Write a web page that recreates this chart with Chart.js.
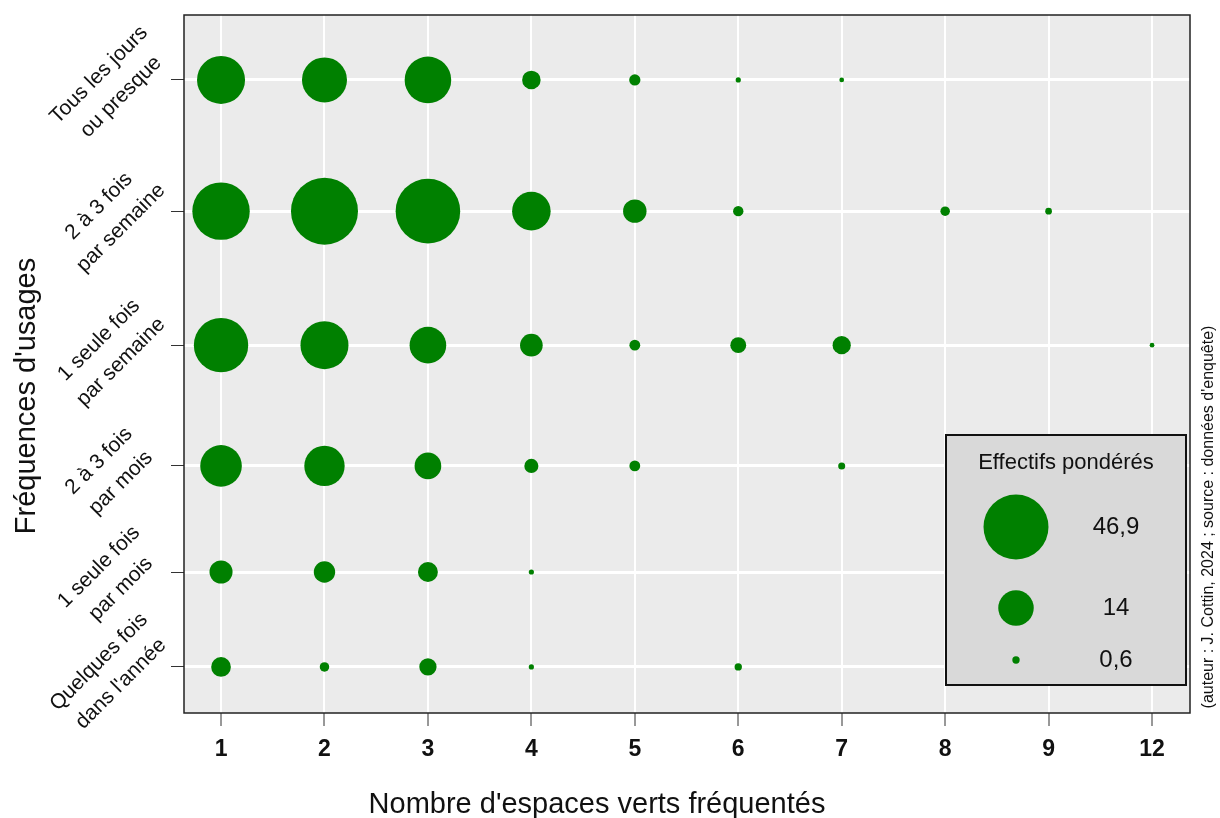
<!DOCTYPE html>
<html>
<head>
<meta charset="utf-8">
<script src="https://cdn.jsdelivr.net/npm/chart.js@4/dist/chart.umd.min.js"></script>
<style>
  body { margin: 0; background: #fff; }
  canvas { display: block; }
</style>
</head>
<body>
<canvas id="bulles" width="1220" height="818"></canvas>
<script>
// nombre d'espaces verts fréquentés (colonnes)
const xLabels = ['1', '2', '3', '4', '5', '6', '7', '8', '9', '12'];
// fréquences d'usages, de bas en haut
const rowLabels = [
  ['Quelques fois', "dans l'année"],
  ['1 seule fois', 'par mois'],
  ['2 à 3 fois', 'par mois'],
  ['1 seule fois', 'par semaine'],
  ['2 à 3 fois', 'par semaine'],
  ['Tous les jours', 'ou presque']
];
const rowLevels = [6.6, 20.2, 35.4, 52.7, 71.9, 90.7];

// effectifs pondérés, une liste par fréquence (null = pas de bulle)
const quelquesFois     = [4.3, 1.0, 3.3, 0.3, null, 0.6, null, null, null, null];
const uneFoisMois      = [5.9, 5.1, 4.4, 0.3, null, null, null, null, null, null];
const deuxTroisMois    = [19.2, 18.1, 7.9, 2.2, 1.3, null, 0.55, null, null, null];
const uneFoisSemaine   = [32.8, 25.6, 14.9, 5.7, 1.3, 2.8, 3.7, null, null, 0.25];
const deuxTroisSemaine = [36.6, 49.8, 46.3, 16.5, 6.1, 1.2, null, 1.0, 0.5, null];
const tousLesJours     = [25.6, 22.5, 24.1, 3.8, 1.4, 0.3, 0.25, null, null, null];
const rows = [quelquesFois, uneFoisMois, deuxTroisMois, uneFoisSemaine, deuxTroisSemaine, tousLesJours];

const legendValues = [46.9, 14, 0.6];
const legendLabels = ['46,9', '14', '0,6'];

const VERT = '#008000';
const FONT = '"Liberation Sans", Arial, Helvetica, sans-serif';

// surface proportionnelle à l'effectif
const rayon = v => 32.5 * Math.sqrt(v / 46.9);

const datasets = rows.map((vals, i) => ({
  label: rowLabels[i].join(' '),
  data: vals.map((v, j) => v == null ? null : { x: j, y: rowLevels[i], r: rayon(v) }).filter(p => p),
  backgroundColor: VERT,
  borderWidth: 0,
  hoverBorderWidth: 0
}));

const decor = {
  id: 'decor',
  beforeDraw(chart) {
    const { ctx, chartArea: a } = chart;
    ctx.save();
    ctx.fillStyle = '#ffffff';
    ctx.fillRect(0, 0, chart.width, chart.height);
    ctx.fillStyle = '#ebebeb';
    ctx.fillRect(a.left, a.top, a.right - a.left, a.bottom - a.top);
    ctx.restore();
  },
  afterDraw(chart) {
    const { ctx, chartArea: a } = chart;
    const ys = chart.scales.y;
    ctx.save();
    // cadre
    ctx.strokeStyle = '#222';
    ctx.lineWidth = 1.5;
    ctx.strokeRect(a.left, a.top, a.right - a.left, a.bottom - a.top);

    // étiquettes de l'axe y, inclinées à 45°
    ctx.fillStyle = '#111';
    ctx.font = '21px ' + FONT;
    ctx.textAlign = 'center';
    ctx.textBaseline = 'middle';
    rowLevels.forEach((lv, i) => {
      const py = ys.getPixelForValue(lv);
      ctx.save();
      ctx.translate(110, py + 6);
      ctx.rotate(-Math.PI / 4);
      const lines = rowLabels[i];
      lines.forEach((t, k) => {
        ctx.fillText(t, 0, (k - (lines.length - 1) / 2) * 31);
      });
      ctx.restore();
    });

    // titres des axes
    ctx.font = '29px ' + FONT;
    ctx.textBaseline = 'alphabetic';
    ctx.fillText("Nombre d'espaces verts fréquentés", 597, 813);
    ctx.save();
    ctx.translate(35, 396);
    ctx.rotate(-Math.PI / 2);
    ctx.fillText("Fréquences d'usages", 0, 0);
    ctx.restore();

    // source
    ctx.font = '16px ' + FONT;
    ctx.save();
    ctx.translate(1213, 517);
    ctx.rotate(-Math.PI / 2);
    ctx.fillText("(auteur : J. Cottin, 2024 ; source : données d'enquête)", 0, 0);
    ctx.restore();

    // légende des tailles
    ctx.fillStyle = '#d9d9d9';
    ctx.fillRect(946, 435, 240, 250);
    ctx.strokeStyle = '#111';
    ctx.lineWidth = 2;
    ctx.strokeRect(946, 435, 240, 250);
    ctx.fillStyle = '#111';
    ctx.font = '22px ' + FONT;
    ctx.textBaseline = 'middle';
    ctx.fillText('Effectifs pondérés', 1066, 463);
    const ly = [527, 608, 660];
    legendValues.forEach((v, k) => {
      ctx.fillStyle = VERT;
      ctx.beginPath();
      ctx.arc(1016, ly[k], rayon(v), 0, Math.PI * 2);
      ctx.fill();
      ctx.fillStyle = '#111';
      ctx.font = '24px ' + FONT;
      ctx.fillText(legendLabels[k], 1116, ly[k]);
    });
    ctx.restore();
  }
};

// pas de marge automatique autour des axes : la zone de tracé est fixée par les padding
const sansMarge = s => {
  s.paddingTop = 0; s.paddingBottom = 0; s.paddingLeft = 0; s.paddingRight = 0;
};

new Chart(document.getElementById('bulles'), {
  type: 'bubble',
  data: { datasets },
  options: {
    responsive: false,
    animation: false,
    devicePixelRatio: 1,
    layout: { autoPadding: false, padding: { top: 15, right: 30, left: 0, bottom: 0 } },
    plugins: { legend: { display: false }, tooltip: { enabled: false } },
    scales: {
      x: {
        type: 'linear',
        min: -0.358,
        max: 9.367,
        afterBuildTicks: s => { s.ticks = xLabels.map((_, i) => ({ value: i })); },
        afterFit: s => { s.height = 105; sansMarge(s); },
        grid: { color: '#ffffff', lineWidth: 2, tickColor: '#333', tickWidth: 1, tickLength: 13 },
        border: { display: false },
        ticks: {
          callback: v => xLabels[v],
          color: '#111',
          font: { family: FONT, size: 23, weight: 'bold' },
          padding: 10,
          maxRotation: 0
        }
      },
      y: {
        type: 'linear',
        min: 0,
        max: 100,
        afterBuildTicks: s => { s.ticks = rowLevels.map(v => ({ value: v })); },
        afterFit: s => { s.width = 184; sansMarge(s); },
        grid: { color: '#ffffff', lineWidth: 3, tickColor: '#333', tickWidth: 1, tickLength: 13 },
        border: { display: false },
        ticks: { display: false }
      }
    }
  },
  plugins: [decor]
});
</script>
</body>
</html>
